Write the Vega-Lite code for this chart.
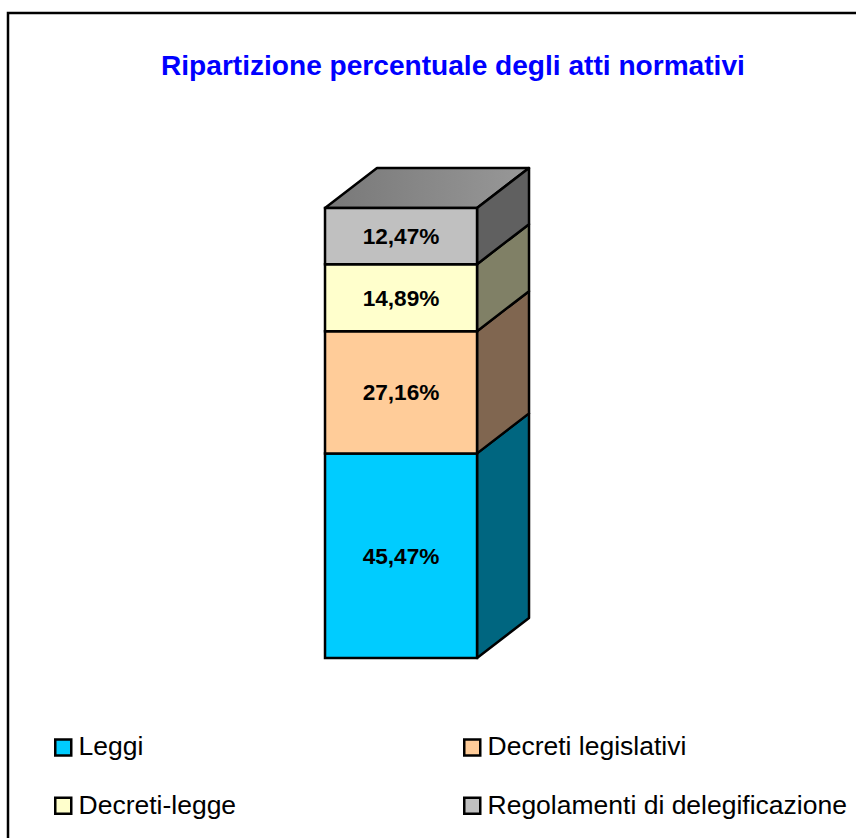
{
"$schema":"https://vega.github.io/schema/vega-lite/v6.json",
"width":860,"height":830,
"autosize":{"type":"none"},
"padding":{"left":8,"top":13,"right":0,"bottom":0},
"background":"white",
"title":{"text":"Ripartizione percentuale degli atti normativi","anchor":"start","dx":153,"dy":72,"font":"Liberation Sans","fontSize":28.1,"fontWeight":"bold","color":"#0000FF"},
"config":{"view":{"stroke":"black","strokeWidth":2.5},"font":"Liberation Sans"},
"datasets":{
"segments":[
{"atto":"Leggi","start":0,"end":45.47,"mid":22.7,"center":50,"label":"45,47%"},
{"atto":"Decreti legislativi","start":45.47,"end":72.63,"mid":59.05,"center":50,"label":"27,16%"},
{"atto":"Decreti-legge","start":72.63,"end":87.52,"mid":80.07,"center":50,"label":"14,89%"},
{"atto":"Regolamenti di delegificazione","start":87.52,"end":100,"mid":93.76,"center":50,"label":"12,47%"}
],
"sides":[
{"atto":"Leggi","p":100,"a":0,"b":45.47},{"atto":"Leggi","p":134.2,"a":8.89,"b":54.36},
{"atto":"Decreti legislativi","p":100,"a":45.47,"b":72.63},{"atto":"Decreti legislativi","p":134.2,"a":54.36,"b":81.52},
{"atto":"Decreti-legge","p":100,"a":72.63,"b":87.52},{"atto":"Decreti-legge","p":134.2,"a":81.52,"b":96.41},
{"atto":"Regolamenti di delegificazione","p":100,"a":87.52,"b":100},{"atto":"Regolamenti di delegificazione","p":134.2,"a":96.41,"b":108.89}
],
"cap":[{"p":0,"a":100,"b":100},{"p":34.2,"a":100,"b":108.89},{"p":100,"a":100,"b":108.89},{"p":134.2,"a":108.89,"b":108.89}]
},
"layer":[
{"data":{"name":"cap"},"mark":{"type":"area","stroke":"black","strokeWidth":2.5,"strokeJoin":"round","fill":{"x1":0,"y1":0,"x2":1,"y2":0,"gradient":"linear","stops":[{"offset":0,"color":"#787878"},{"offset":1,"color":"#989898"}]}},
"encoding":{"x":{"field":"p","type":"quantitative","scale":{"domain":[-208.55,357.2],"nice":false,"zero":false},"axis":null},"y":{"field":"a","type":"quantitative","scale":{"domain":[-41.11,143.33],"nice":false,"zero":false},"axis":null,"stack":null},"y2":{"field":"b"}}},
{"data":{"name":"sides"},"mark":{"type":"area","stroke":"black","strokeWidth":2.5,"strokeJoin":"round"},
"encoding":{"x":{"field":"p","type":"quantitative","axis":null},"y":{"field":"a","type":"quantitative","axis":null,"stack":null},"y2":{"field":"b"},
"fill":{"field":"atto","type":"nominal","legend":null,"scale":{"domain":["Leggi","Decreti legislativi","Decreti-legge","Regolamenti di delegificazione"],"range":["#006680","#806650","#808066","#606060"]}}}},
{"data":{"name":"segments"},"mark":{"type":"rect","stroke":"black","strokeWidth":2.5},
"encoding":{"x":{"datum":0,"type":"quantitative","axis":null},"x2":{"datum":100},"y":{"field":"start","type":"quantitative","axis":null},"y2":{"field":"end"},
"fill":{"field":"atto","type":"nominal","sort":null,"scale":{"domain":["Leggi","Decreti legislativi","Decreti-legge","Regolamenti di delegificazione"],"range":["#00CCFF","#FFCC99","#FFFFCC","#C0C0C0"]},
"legend":{"title":null,"orient":"none","legendX":42,"legendY":721,"columns":2,"direction":"horizontal","gridAlign":"all","columnPadding":21,"rowPadding":31.5,"symbolType":"square","symbolSize":256,"symbolStrokeColor":"black","symbolStrokeWidth":2.5,"labelFont":"Liberation Sans","labelFontSize":26.5,"labelColor":"black","labelOffset":2,"labelLimit":500}}}},
{"data":{"name":"segments"},"mark":{"type":"text","font":"Liberation Sans","fontSize":22.6,"fontWeight":"bold","color":"black","dy":1},
"encoding":{"x":{"field":"center","type":"quantitative","axis":null},"y":{"field":"mid","type":"quantitative","axis":null},"text":{"field":"label"}}}
],
"resolve":{"scale":{"fill":"independent"}}
}
